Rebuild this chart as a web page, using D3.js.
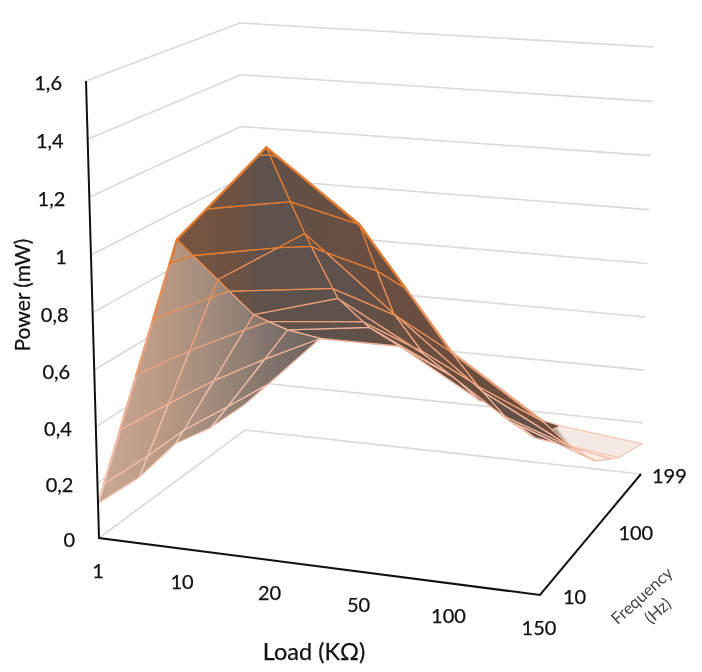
<!DOCTYPE html>
<html>
<meta charset="utf-8">
<style>
 body { margin: 0; background: #fff; }
 svg { filter: blur(0.35px); }
 text { font-family: Lato, "Open Sans", sans-serif; fill: #111; stroke: #111; stroke-width: 0.25px; }
</style>
<body>
<script src="https://d3js.org/d3.v7.min.js"></script>
<script>

var width = 702
var height = 672

// chart values
var loads = ["1", "10", "20", "50", "100", "150"]
var freqs = [10, 50, 100, 150, 199]
var freqTicks = ["10", "100", "199"]
var powerTicks = ["0", "0,2", "0,4", "0,6", "0,8", "1", "1,2", "1,4", "1,6"]
var powerLevels = [0, 0.2, 0.4, 0.6, 0.8, 1, 1.2, 1.4, 1.6]
var f10 = [0.127, 1.085, 1.43, 1.20, 0.80, 0.60]
var f50 = [0.115, 0.865, 1.06, 0.81, 0.57, 0.41]
var f100 = [0.145, 0.66, 0.75, 0.58, 0.37, 0.26]
var f150 = [0.11, 0.52, 0.56, 0.41, 0.21, 0.17]
var f199 = [0.105, 0.40, 0.40, 0.22, 0.155, 0.12]
var power = [f10, f50, f100, f150, f199]

// box corners on screen: floor and top, [front left, front right, back right, back left]
var floorBox = [[99, 538], [540, 595], [641, 474], [245, 430]]
var topBox = [[86, 81], [548, 123], [654, 47], [240, 23]]

var uScale = d3.scalePow().exponent(1.03).domain([0, loads.length - 1]).range([0, 1])
var vScale = d3.scalePow().exponent(0.92).domain([0, freqs.length - 1]).range([0, 1])
var zScale = d3.scalePow().exponent(1.02).domain([0, 1.6]).range([0, 1])

function bilerp(box, u, v) {
  return [0, 1].map(function (k) {
    return (1 - v) * ((1 - u) * box[0][k] + u * box[1][k]) + v * ((1 - u) * box[3][k] + u * box[2][k])
  })
}

function project(u, v, z) {
  var a = bilerp(floorBox, u, v), b = bilerp(topBox, u, v), w = zScale(z)
  return [a[0] + (b[0] - a[0]) * w, a[1] + (b[1] - a[1]) * w]
}

var svg = d3.select("body").append("svg")
  .attr("width", width)
  .attr("height", height)

var defs = svg.append("defs")

function gradient(id, x1, y1, x2, y2, stops) {
  var g = defs.append("linearGradient").attr("id", id)
    .attr("gradientUnits", "userSpaceOnUse")
    .attr("x1", x1).attr("y1", y1).attr("x2", x2).attr("y2", y2)
  stops.forEach(function (s) {
    g.append("stop").attr("offset", s[0]).attr("stop-color", s[1])
  })
}

// left slope, goes from salmon to grey
gradient("leftFace", 100, 0, 330, 0, [[0, "#c9a796"], [0.25, "#bd9a84"], [0.5, "#a08a7c"], [0.75, "#80736c"], [1, "#655c58"]])
// the brown upper facets
gradient("darkFace", 190, 0, 420, 0, [[0, "#77543f"], [0.22, "#6d5244"], [0.3, "#5f514b"], [0.7, "#5f514b"], [1, "#6a4e40"]])
gradient("frontFace", 240, 0, 560, 0, [[0, "#5f504a"], [0.35, "#684f43"], [1, "#6d4c3b"]])
// the far end of the surface fades out to a pale skin
gradient("tailFar", 544, 446, 574, 424, [[0, "#625049"], [0.4, "#625049"], [0.6, "#f5e9e3"], [1, "#f5e9e3"]])
gradient("tailNear", 544, 446, 574, 424, [[0, "#625049"], [0.4, "#625049"], [0.6, "#fdefe8"], [1, "#fdefe8"]])

// walls
var grid = svg.append("g").attr("fill", "none").attr("stroke", "#d9d9d9").attr("stroke-width", 1.6)
powerLevels.forEach(function (z) {
  grid.append("path")
    .attr("d", d3.line()([project(0, 0, z), project(0, 1, z), project(1, 1, z)]))
})

// cut a polygon at a power level, keep the side given by sign
function clip(poly, level, sign) {
  var out = []
  poly.forEach(function (p, i) {
    var q = poly[(i + 1) % poly.length]
    var dp = (p.z - level) * sign, dq = (q.z - level) * sign
    if (dp >= 0) out.push(p)
    if (dp * dq < 0) {
      var t = dp / (dp - dq)
      out.push({ u: p.u + (q.u - p.u) * t, v: p.v + (q.v - p.v) * t, z: level })
    }
  })
  return out
}

var lineColor = d3.scaleThreshold()
  .domain([0.2, 0.4, 0.6, 0.8, 1.0])
  .range(["#f4c9b6", "#f2bda8", "#eeb094", "#eb9f78", "#e78d55", "#e27b2f"])

function bandFill(i, j) {
  if (i == 0) return "url(#leftFace)"
  if (i == 4 && j >= 3) return "url(#tailFar)"
  if (i == 4 && j >= 1) return "url(#tailNear)"
  if (j == 0 && i >= 2) return "url(#frontFace)"
  return "url(#darkFace)"
}

var mesh = svg.append("g")
  .attr("stroke-width", 1.3)
  .attr("stroke-linejoin", "round")

// back row first, right to left, so the front of the surface sits on top
for (var j = freqs.length - 2; j >= 0; j--) {
  for (var i = loads.length - 2; i >= 0; i--) {
    var quad = [[i, j], [i + 1, j], [i + 1, j + 1], [i, j + 1]].map(function (c) {
      return { u: uScale(c[0]), v: vScale(c[1]), z: power[c[1]][c[0]] }
    })
    for (var b = 0; b < powerLevels.length - 1; b++) {
      var lo = powerLevels[b], hi = powerLevels[b + 1]
      var piece = clip(clip(quad, lo, 1), hi, -1)
      if (piece.length < 3) continue
      mesh.append("path")
        .attr("d", d3.line()(piece.map(function (p) { return project(p.u, p.v, p.z) })) + "Z")
        .attr("fill", bandFill(i, j))
        .attr("stroke", lineColor(lo))
    }
  }
}

// the front row makes the ridge, drawn heavier and split at each power level
for (var k = 0; k < loads.length - 1; k++) {
  var za = f10[k], zb = f10[k + 1]
  var cuts = [0].concat(powerLevels.filter(function (l) {
    return l > Math.min(za, zb) && l < Math.max(za, zb)
  }).map(function (l) { return (l - za) / (zb - za) }), [1]).sort(d3.ascending)
  for (var c = 0; c < cuts.length - 1; c++) {
    var ends = [cuts[c], cuts[c + 1]].map(function (t) {
      return project(uScale(k) + (uScale(k + 1) - uScale(k)) * t, 0, za + (zb - za) * t)
    })
    mesh.append("path")
      .attr("d", d3.line()(ends))
      .attr("fill", "none")
      .attr("stroke-width", 2.4)
      .attr("stroke-linecap", "round")
      .attr("stroke", lineColor(za + (zb - za) * (cuts[c] + cuts[c + 1]) / 2))
  }
}

// axes
var axisPts = [project(0, 0, 1.6), project(0, 0, 0), project(1, 0, 0), project(1, 1, 0)]
svg.append("path")
  .attr("d", d3.line()(axisPts))
  .attr("fill", "none")
  .attr("stroke", "#111")
  .attr("stroke-width", 2)

// value labels
powerTicks.forEach(function (t, k) {
  var p = project(0, 0, powerLevels[k])
  svg.append("text")
    .attr("x", p[0] - 24)
    .attr("y", p[1] + 9)
    .attr("text-anchor", "end")
    .attr("font-size", 20)
    .text(t)
})

// load labels
loads.forEach(function (t, k) {
  var p = project(uScale(k), 0, 0)
  svg.append("text")
    .attr("x", p[0] - 1)
    .attr("y", p[1] + 40)
    .attr("text-anchor", "middle")
    .attr("font-size", 20)
    .text(t)
})

// frequency labels, every other row
var freqDx = [23, 25, 11]
freqTicks.forEach(function (t, k) {
  var p = project(1, vScale(k * 2), 0)
  svg.append("text")
    .attr("x", p[0] + freqDx[k])
    .attr("y", p[1] + 9)
    .attr("font-size", 20)
    .text(t)
})

// axis titles
svg.append("text")
  .attr("x", 314).attr("y", 660)
  .attr("text-anchor", "middle")
  .attr("font-size", 23.5)
  .text("Load (KΩ)")

svg.append("text")
  .attr("transform", "translate(30,295) rotate(-90)")
  .attr("text-anchor", "middle")
  .attr("font-size", 21)
  .text("Power (mW)")

svg.append("text")
  .attr("transform", "translate(643,597) rotate(-42)")
  .attr("text-anchor", "middle")
  .attr("dy", 4)
  .attr("font-size", 16.5)
  .style("fill", "#444")
  .style("stroke", "none")
  .text("Frequency")

svg.append("text")
  .attr("transform", "translate(659,612) rotate(-42)")
  .attr("text-anchor", "middle")
  .attr("dy", 4)
  .attr("font-size", 16.5)
  .style("fill", "#444")
  .style("stroke", "none")
  .text("(Hz)")

</script>
</body>
</html>
